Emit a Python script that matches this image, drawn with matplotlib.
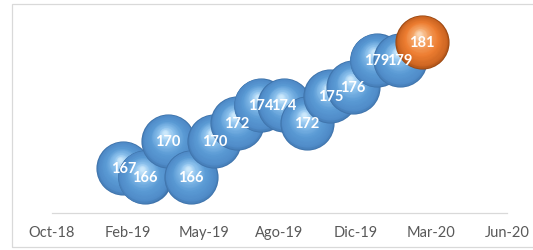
import numpy as np
import pandas as pd
from matplotlib import pyplot as plt
from matplotlib import transforms
from matplotlib.patches import Rectangle

# monthly values, Feb-2019 .. Mar-2020
dates = pd.date_range("2019-02-01", "2020-03-01", freq="MS")
values = [167, 166, 170, 166, 170, 172, 174, 174, 172, 175, 176, 179, 179, 181]
colors = ["blue"] * 13 + ["orange"]

tick_labels = ["Oct-18", "Feb-19", "May-19", "Ago-19", "Dic-19", "Mar-20", "Jun-20"]
x_start = pd.Timestamp("2018-10-30")
tick_step_days = 100

# gradient stops (edge -> highlight) for the shaded spheres
stops = [0.0, 0.08, 0.4, 0.75, 1.0]
palettes = {
    "blue": ["#3f73ab", "#4f8bc8", "#5b9bd5", "#8ec3ee", "#d2ecfd"],
    "orange": ["#9a4812", "#cc6522", "#ed7d31", "#f5a769", "#fbdcbc"],
}

plt.rcParams["font.family"] = ["Lato", "DejaVu Sans"]

fig = plt.figure(figsize=(5.33, 2.51), dpi=100)
ax = fig.add_axes([52 / 533, 37 / 251, 455 / 533, 207 / 251])

x = (dates - x_start).days.values
diam = 39  # points
n_layers = 40
hl = np.array([-0.12, 0.32])  # highlight offset (fraction of radius)


def hex2rgb(h):
    return np.array([int(h[i:i + 2], 16) / 255 for i in (1, 3, 5)])


z = 2
for xi, yi, c in zip(x, values, colors):
    pal = np.array([hex2rgb(h) for h in palettes[c]])
    for k in range(n_layers):
        t = k / n_layers
        frac = 1 - t * 0.95
        col = [np.interp(t, stops, pal[:, j]) for j in range(3)]
        off = hl * (1 - frac) * diam / 2
        tr = transforms.offset_copy(ax.transData, fig, x=off[0], y=off[1], units="points")
        ax.scatter([xi], [yi], s=(diam * frac) ** 2, color=col, linewidths=0,
                   transform=tr, zorder=z, clip_on=False)
        z += 1

# data labels sit above every bubble
for xi, yi in zip(x, values):
    ax.text(xi, yi, str(yi), color="white", fontsize=10.5, fontweight="bold",
            ha="center", va="center", zorder=z, clip_on=False)

ax.set_xlim(0, tick_step_days * (len(tick_labels) - 1))
ax.set_ylim(162, 185)
ax.set_xticks(np.arange(len(tick_labels)) * tick_step_days)
ax.set_xticklabels(tick_labels)
ax.set_yticks([])
ax.tick_params(axis="x", length=0, pad=9, labelsize=10.5, labelcolor="#595959")
for side in ["top", "right", "left"]:
    ax.spines[side].set_visible(False)
ax.spines["bottom"].set_color("#d9d9d9")
ax.spines["bottom"].set_linewidth(0.9)

fig.patches.append(Rectangle((12 / 533, 3 / 251), 1.0, 243 / 251, transform=fig.transFigure,
                             fill=False, edgecolor="#d9d9d9", linewidth=0.9))

plt.savefig("out.png", dpi=100)
